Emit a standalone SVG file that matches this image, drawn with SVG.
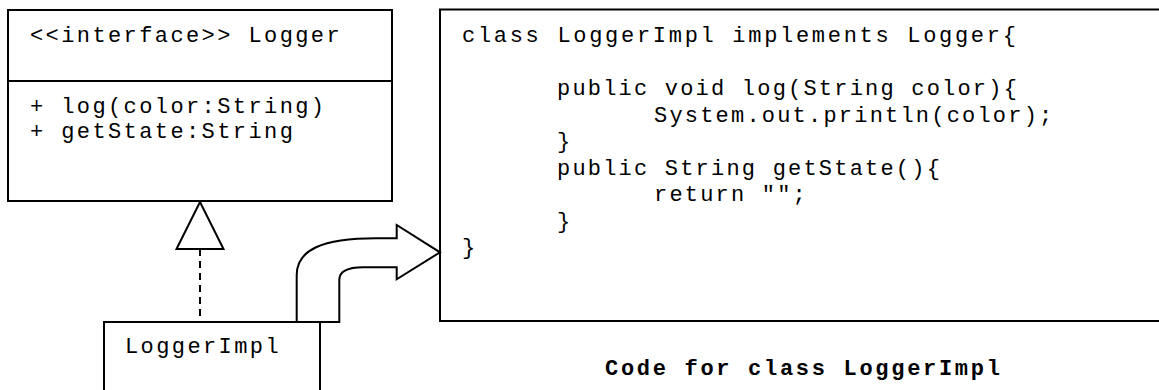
<svg xmlns="http://www.w3.org/2000/svg" width="1159" height="390" viewBox="0 0 1159 390">
  <style>
    .box { fill: #ffffff; stroke: #000000; stroke-width: 2; }
    .line { fill: none; stroke: #000000; stroke-width: 2; }
    .mono { font-family: "Liberation Mono", "Courier New", monospace; font-size: 22px; letter-spacing: 2.4px; fill: #000000; }
    .code { font-family: "Liberation Mono", "Courier New", monospace; font-size: 22px; letter-spacing: 2.2px; fill: #000000; }
    .caption { font-family: "Liberation Mono", "Courier New", monospace; font-size: 22px; font-weight: bold; letter-spacing: 2.7px; fill: #000000; }
  </style>
  <rect x="0" y="0" width="1159" height="390" fill="#ffffff"/>

  <!-- Interface Logger -->
  <g id="logger">
    <rect class="box" x="8" y="10" width="384" height="191"/>
    <line class="line" x1="8" y1="81" x2="392" y2="81"/>
    <text class="mono" x="30" y="42">&lt;&lt;interface&gt;&gt; Logger</text>
    <text class="mono" x="30" y="113">+ log(color:String)</text>
    <text class="mono" x="30" y="138">+ getState:String</text>
  </g>

  <!-- Class LoggerImpl -->
  <g id="loggerimpl">
    <rect class="box" x="104" y="322" width="216" height="80"/>
    <text class="mono" x="125" y="353">LoggerImpl</text>
  </g>

  <!-- Source code panel -->
  <g id="code-panel">
    <rect class="box" x="440" y="9.5" width="740" height="311.5"/>
    <text class="code" x="462" y="42" style="letter-spacing:2.7px">class LoggerImpl implements Logger{</text>
    <text class="code" x="557" y="95">public void log(String color){</text>
    <text class="code" x="654" y="121.5">System.out.println(color);</text>
    <text class="code" x="557" y="148">}</text>
    <text class="code" x="557" y="174.5">public String getState(){</text>
    <text class="code" x="654" y="201">return "";</text>
    <text class="code" x="557" y="227.5">}</text>
    <text class="code" x="462" y="254">}</text>
  </g>

  <g id="caption">
    <text class="caption" x="605" y="375">Code for class LoggerImpl</text>
  </g>

  <!-- Connectors -->
  <g id="connectors">
    <!-- realization: dashed line with hollow triangle -->
    <line class="line" x1="200" y1="249" x2="200" y2="322" stroke-dasharray="7,5"/>
    <polygon class="box" points="200,202 176.5,249 223.5,249"/>
    <!-- block arrow from class to its code -->
    <path class="box" d="M296.7,322 L296.7,275 C296.7,250 322,238.3 376,238.3 L396.7,238.3 L396.7,225 L440,252.3 L396.7,279.3 L396.7,267.3 L363,267.3 C346,267.3 339.3,272 339.3,280 L339.3,322 Z"/>
  </g>
</svg>
